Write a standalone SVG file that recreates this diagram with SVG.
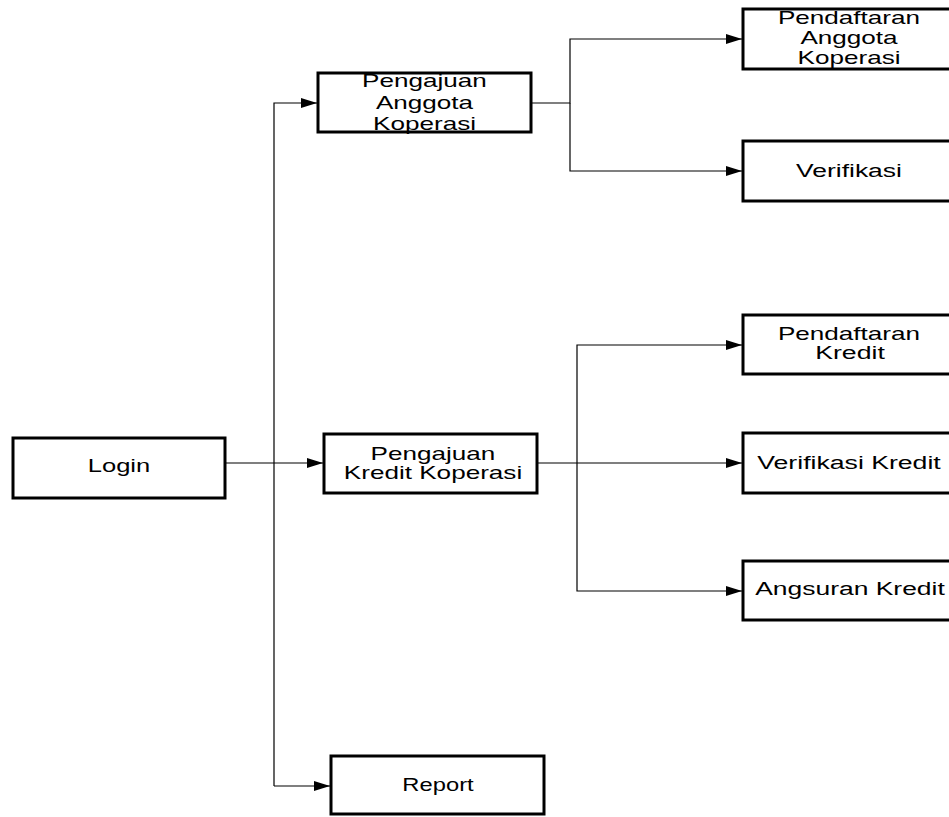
<svg xmlns="http://www.w3.org/2000/svg" width="949" height="817" viewBox="0 0 949 817">
<style>
.box{fill:#fff;stroke:#000;stroke-width:3}
.t{font-family:"Liberation Sans",Arial,sans-serif;font-size:18px;fill:#000;text-anchor:middle}
.c{fill:none;stroke:#000;stroke-width:1.2}
</style>
<defs>
<marker id="ah" markerUnits="userSpaceOnUse" markerWidth="17" markerHeight="11" refX="16" refY="5" orient="auto">
<path d="M0,0 L16,5 L0,10 Z" fill="#000"/>
</marker>
</defs>
<rect width="949" height="817" fill="#fff"/>
<g id="connectors">
<path class="c" d="M225,463 H323" marker-end="url(#ah)"/>
<path class="c" d="M274,786 V103 H317" marker-end="url(#ah)"/>
<path class="c" d="M274,786 H330" marker-end="url(#ah)"/>
<path class="c" d="M531,103 H570 V39 H742" marker-end="url(#ah)"/>
<path class="c" d="M570,103 V171 H742" marker-end="url(#ah)"/>
<path class="c" d="M537,463 H742" marker-end="url(#ah)"/>
<path class="c" d="M577,463 V345 H742" marker-end="url(#ah)"/>
<path class="c" d="M577,463 V591 H742" marker-end="url(#ah)"/>
</g>
<g id="login">
<rect class="box" x="13" y="438" width="212" height="60"/>
<text class="t" transform="translate(119,472) scale(1.42,1)">Login</text>
</g>
<g id="pengajuan-anggota">
<rect class="box" x="318" y="73" width="213" height="59"/>
<text class="t" transform="translate(424.5,87) scale(1.45,1)">Pengajuan</text>
<text class="t" transform="translate(424.5,109) scale(1.45,1)">Anggota</text>
<text class="t" transform="translate(424.5,130) scale(1.45,1)">Koperasi</text>
</g>
<g id="pengajuan-kredit">
<rect class="box" x="324" y="434" width="213" height="59"/>
<text class="t" transform="translate(433,460) scale(1.45,1)">Pengajuan</text>
<text class="t" transform="translate(433,479) scale(1.45,1)">Kredit Koperasi</text>
</g>
<g id="report">
<rect class="box" x="331" y="756" width="213" height="58"/>
<text class="t" transform="translate(438,791) scale(1.32,1)">Report</text>
</g>
<g id="pendaftaran-anggota">
<rect class="box" x="743" y="9" width="212" height="60"/>
<text class="t" transform="translate(849,24) scale(1.45,1)">Pendaftaran</text>
<text class="t" transform="translate(849,44) scale(1.45,1)">Anggota</text>
<text class="t" transform="translate(849,64) scale(1.45,1)">Koperasi</text>
</g>
<g id="verifikasi">
<rect class="box" x="743" y="141" width="212" height="60"/>
<text class="t" transform="translate(849,177) scale(1.47,1)">Verifikasi</text>
</g>
<g id="pendaftaran-kredit">
<rect class="box" x="743" y="315" width="212" height="59"/>
<text class="t" transform="translate(849,340) scale(1.45,1)">Pendaftaran</text>
<text class="t" transform="translate(850,359) scale(1.48,1)">Kredit</text>
</g>
<g id="verifikasi-kredit">
<rect class="box" x="743" y="433" width="212" height="60"/>
<text class="t" transform="translate(849,469) scale(1.48,1)">Verifikasi Kredit</text>
</g>
<g id="angsuran-kredit">
<rect class="box" x="743" y="561" width="212" height="59"/>
<text class="t" transform="translate(850,595) scale(1.47,1)">Angsuran Kredit</text>
</g>
</svg>
